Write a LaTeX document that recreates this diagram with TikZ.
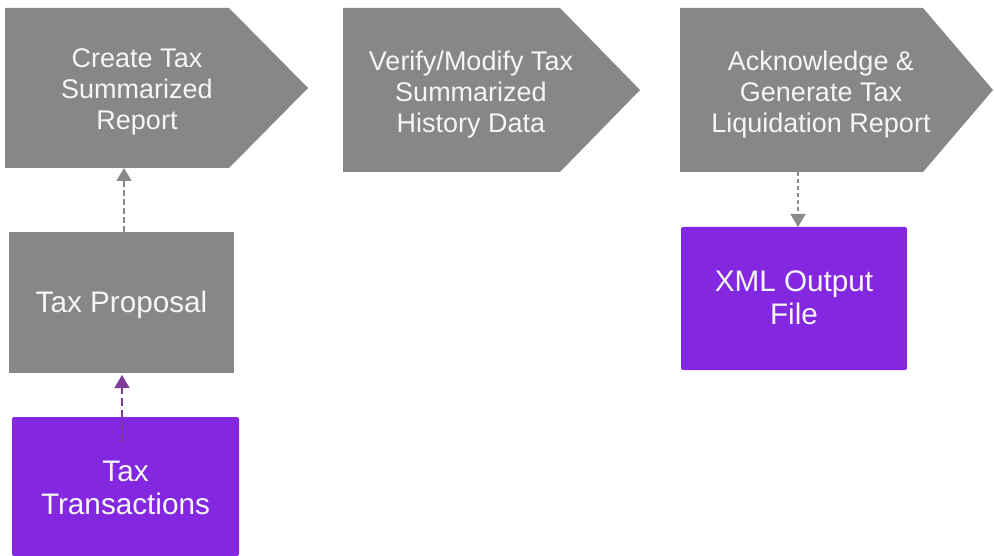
\documentclass[tikz,border=0pt]{standalone}
\usepackage{fontspec}
\setmainfont{Liberation Sans}
\usetikzlibrary{arrows.meta}
\definecolor{boxgrey}{HTML}{878787}
\definecolor{boxpurple}{HTML}{8427E0}
\definecolor{arrpurple}{HTML}{7D3C98}
\definecolor{arrgrey}{HTML}{8A8A8A}
\definecolor{txt}{HTML}{F6F6F6}
\begin{document}
\begin{tikzpicture}[x=1pt,y=-1pt,
  body/.style={inner sep=0pt, outer sep=0pt},
  steplabel/.style={text=txt, align=center, inner sep=0pt,
    font=\fontsize{27}{31}\selectfont},
  greybox/.style={fill=boxgrey, inner sep=0pt, outer sep=0pt},
  purplebox/.style={fill=boxpurple, rounded corners=2pt, inner sep=0pt, outer sep=0pt},
  boxlabel/.style={text=txt, align=center, inner sep=0pt,
    font=\fontsize{29.7}{32.5}\selectfont},
  greyarrow/.style={draw=arrgrey, line width=1.5pt, dash pattern=on 6pt off 3pt,
    -{Triangle[width=15pt,length=13pt]}},
  purplearrow/.style={draw=arrpurple, line width=1.5pt, dash pattern=on 8pt off 4pt,
    -{Triangle[width=15pt,length=13pt]}}
]
\useasboundingbox (0,0) rectangle (994,556);

% step 1
\node[body, minimum width=224pt, minimum height=160pt] (p1) at (117,88) {};
\coordinate (p1tip) at (308,88);
\fill[boxgrey] (p1.north west) -- (p1.north east) -- (p1tip) -- (p1.south east) -- (p1.south west) -- cycle;
\node[steplabel] (p1t) at (137,92) {Create Tax\\Summarized\\Report};

% step 2
\node[body, minimum width=217pt, minimum height=164pt] (p2) at (451.5,90) {};
\coordinate (p2tip) at (640,90);
\fill[boxgrey] (p2.north west) -- (p2.north east) -- (p2tip) -- (p2.south east) -- (p2.south west) -- cycle;
\node[steplabel] (p2t) at (471,95) {Verify/Modify Tax\\Summarized\\History Data};

% step 3
\node[body, minimum width=243pt, minimum height=164pt] (p3) at (801.5,90) {};
\coordinate (p3tip) at (993,90);
\fill[boxgrey] (p3.north west) -- (p3.north east) -- (p3tip) -- (p3.south east) -- (p3.south west) -- cycle;
\node[steplabel] (p3t) at (821,95) {Acknowledge \&\\Generate Tax\\Liquidation Report};

% boxes
\node[greybox, minimum width=225pt, minimum height=141pt] (tp) at (121.5,302.5) {};
\node[boxlabel] (tpt) at (121.5,305) {Tax Proposal};
\node[purplebox, minimum width=227pt, minimum height=139pt] (tt) at (125.5,486.5) {};
\node[boxlabel] (ttt) at (125.5,488) {Tax\\Transactions};
\node[purplebox, minimum width=226pt, minimum height=143pt] (xml) at (794,298.5) {};
\node[boxlabel] (xmlt) at (794,298) {XML Output\\File};

% connectors
\draw[greyarrow] ([xshift=2.5pt]tp.north) -- ([xshift=2.5pt]tp.north |- p1.south);
\coordinate (ttsrc) at (122,442);
\draw[purplearrow, shorten >=2pt] (ttsrc) -- (ttsrc |- tp.south);
\draw[greyarrow, dash pattern=on 4pt off 3pt] ([xshift=4pt]xml.north |- p3.south) -- ([xshift=4pt]xml.north);
\end{tikzpicture}
\end{document}
